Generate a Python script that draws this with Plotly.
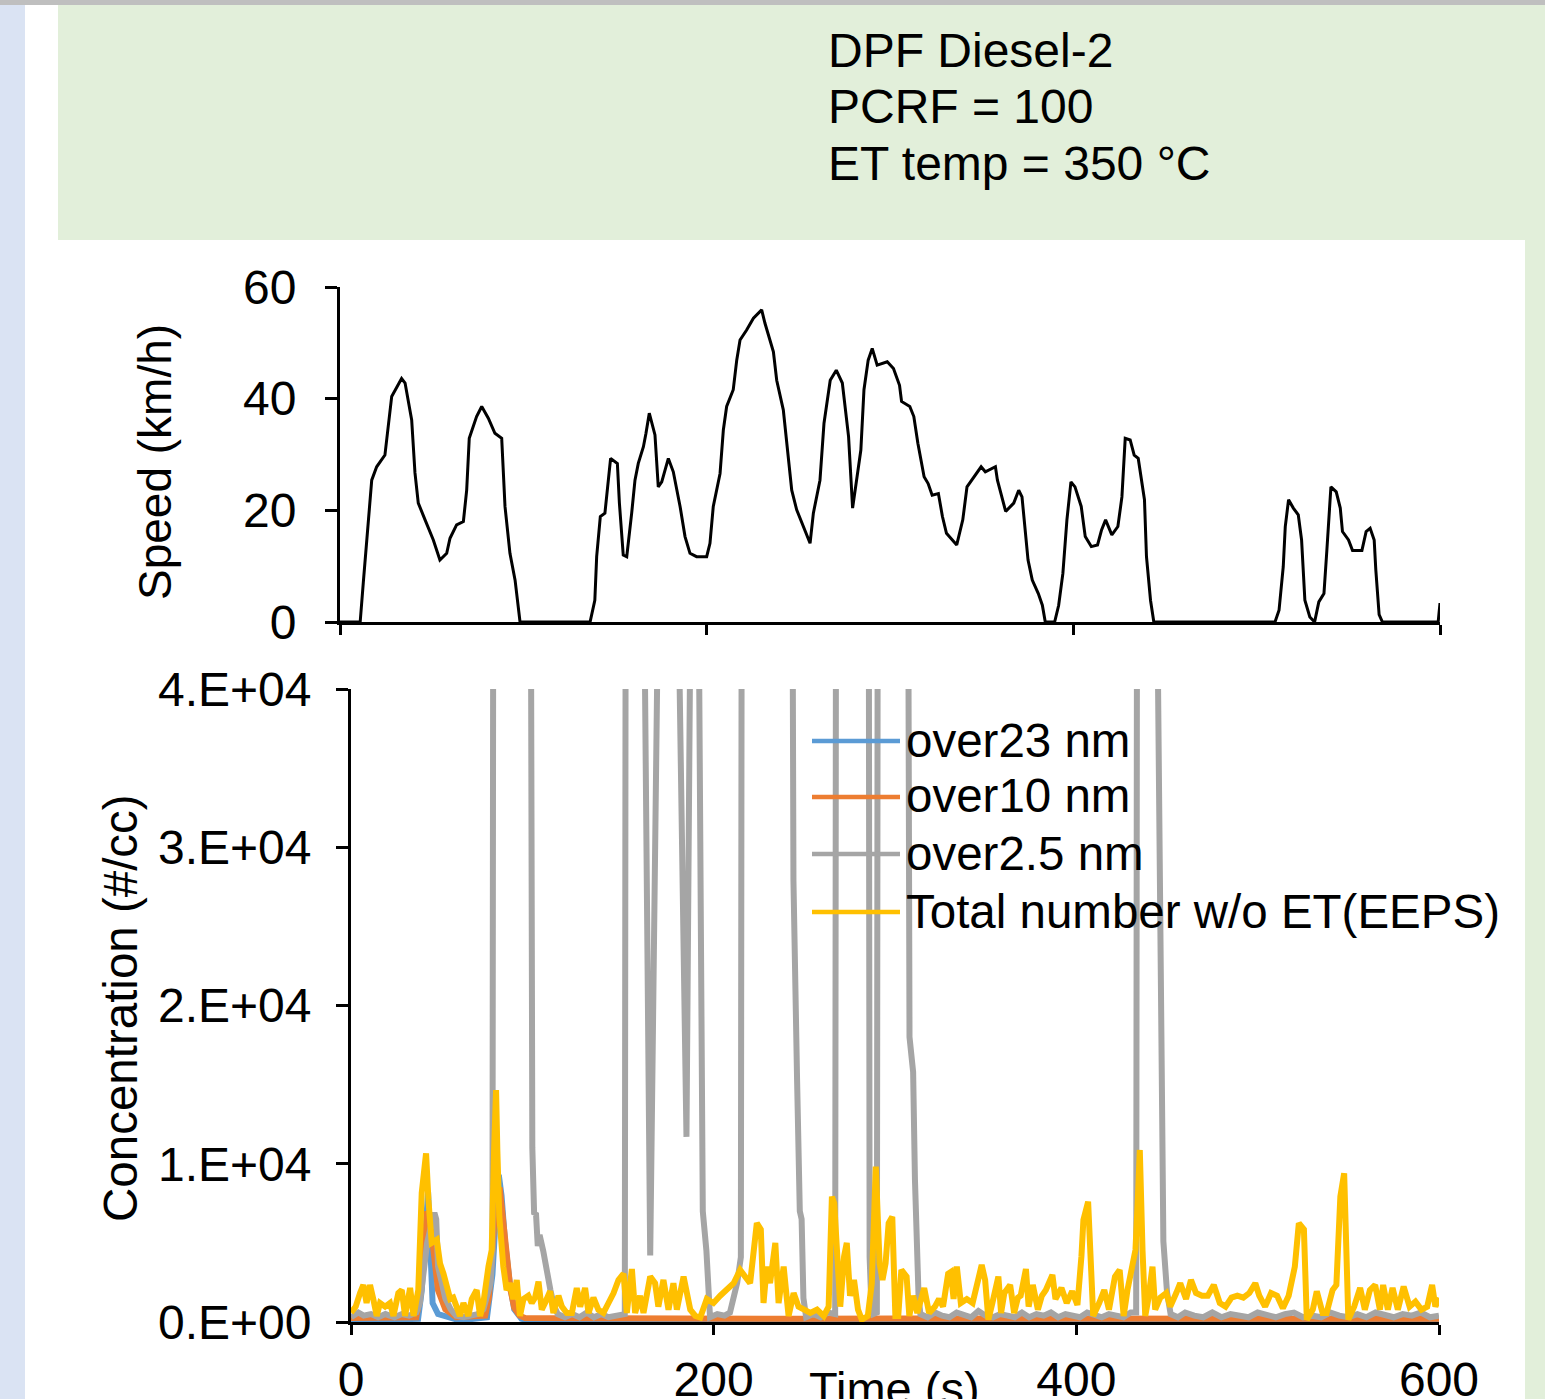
import plotly.graph_objects as go

W, H = 1545, 1399
FONT = "Liberation Sans, Arial, sans-serif"

# ---------------- data ----------------
time_ticks = [0, 200, 400, 600]
speed_ticks = [0, 20, 40, 60]
conc_ticks = [0, 10000, 20000, 30000, 40000]
conc_ticktext = ["0.E+00", "1.E+04", "2.E+04", "3.E+04", "4.E+04"]

speed_t = [0, 11, 12.7, 14.2, 17.3, 20, 24.5, 28.2, 33.6, 35.5, 39.1, 40.9, 42.7, 46.4, 50.9,
           54.5, 58.2, 60, 63.6, 67.3, 69.1, 70.5, 74.5, 77.3, 80.9, 84.5, 88.2, 90, 92.7, 95.5,
           98.2, 136.4, 139, 140, 142, 144.5, 146.4, 147.6, 151.3, 152.4, 154.5, 156.4, 159.1,
           160.9, 162.7, 165.5, 166.9, 168.7, 171.8, 173.6, 175.5, 179.1, 181.8, 185.5, 188.2,
           190.9, 194.5, 200, 201.8, 203.6, 207.3, 209.1, 210.9, 214.5, 216.4, 218.2, 221.8,
           225.5, 230, 231.8, 236.4, 238.2, 241.8, 246.4, 249.1, 252.7, 256.4, 258.2, 261.8,
           264.0, 267.4, 270.7, 274.0, 277.4, 279.6, 284.1, 285.8, 288.1, 290.3, 293.0, 298.5,
           301.9, 305.2, 306.3, 310.8, 313.0, 315.2, 318.6, 320.8, 323.0, 326.4, 328.6, 330.8,
           336.4, 339.7, 342.0, 345.3, 349.7, 352.0, 357.5, 358.6, 360.9, 363.1, 367.5, 370.2,
           372.0, 375.3, 377.6, 380.9, 383.1, 384.7, 389.8, 392.0, 394.3, 396.5, 398.7, 400.9,
           404.3, 406.5, 409.8, 413.2, 415.4, 417.6, 421.0, 424.3, 426.5, 428.3, 431.0, 433.2,
           435.4, 436.6, 438.8, 439.9, 442.1, 443.9, 510.0, 512.2, 514.5, 515.6, 517.4, 520.0,
           522.7, 524.5, 526.3, 529.0, 531.6, 533.9, 536.7, 538.3, 539.6, 540.5, 543.4, 545.6,
           546.8, 550.1, 552.3, 557.4, 559.7, 561.9, 564.1, 565.0, 566.8, 568.6, 599, 600]
speed_v = [0, 0, 7.0, 13.5, 25.4, 27.8, 29.9, 40.4, 43.6, 42.8, 36.2, 26.7, 21.3, 18.3, 14.7,
           11.1, 12.3, 15.0, 17.4, 18.0, 23.6, 32.9, 36.8, 38.6, 36.5, 33.8, 32.9, 20.7, 12.3, 7.5,
           0, 0, 3.9, 11.7, 18.9, 19.5, 25.4, 29.3, 28.4, 21.3, 12.0, 11.7, 19.5,
           25.4, 28.4, 31.4, 33.8, 37.4, 33.5, 24.2, 25.1, 29.3, 26.9, 20.7, 15.3,
           12.3, 11.7, 11.7, 14.1, 20.7, 26.6, 34.4, 38.6, 41.6, 46.9, 50.5, 52.3,
           54.4, 55.9, 53.5, 48.4, 43.3, 38.0, 23.6, 20.1, 17.1, 14.1, 19.5, 25.4,
           35.6, 43.3, 45.1, 42.8, 33.2, 20.4, 30.8, 41.6, 46.9, 49.0, 46.0, 46.6,
           45.4, 42.4, 39.5, 38.6, 36.8, 32.0, 26.0, 24.8, 22.7, 23.0, 18.9, 15.9,
           13.8, 18.3, 24.2, 25.7, 27.8, 26.9, 27.8, 25.4, 22.4, 19.8, 21.3, 23.6,
           22.4, 11.1, 7.5, 5.1, 3.0, 0, 0, 3.0, 8.7, 18.3, 25.1, 24.2,
           20.7, 15.3, 13.5, 13.8, 16.5, 18.3, 15.6, 17.1, 22.4, 32.9, 32.6, 29.9,
           29.3, 26.6, 21.9, 11.7, 3.9, 0, 0, 2.1, 9.9, 17.1, 21.9, 20.4,
           19.2, 14.7, 3.9, 0.9, 0, 3.6, 5.1, 12.9, 20.1, 24.2, 23.3, 20.4,
           16.2, 14.7, 12.8, 12.8, 16.2, 16.8, 14.7, 9.3, 1.3, 0, 0, 3.4]

# over23 nm (blue)
over23_t = [0, 37, 39, 41, 42.5, 44, 45, 48, 55, 60, 75, 78, 80, 81.5, 83, 85, 87.5, 90, 94, 100, 600]
over23_c = [100, 200, 2000, 6000, 8200, 4000, 1200, 500, 300, 100, 300, 3000, 7000, 9300, 8000,
            5000, 2500, 800, 200, 80, 80]

# over10 nm (orange)
over10_t = [0, 36, 38, 40, 42, 44, 46, 48, 52, 58, 74, 76, 78, 80, 82, 84, 86, 88, 90, 93, 96,
            150, 200, 250, 300, 350, 400, 450, 500, 550, 600]
over10_c = [250, 300, 1500, 4500, 7000, 6000, 4000, 2000, 800, 300, 400, 1500, 4500, 8000, 8500,
            6000, 3500, 2000, 900, 400, 250, 200, 230, 200, 220, 200, 220, 200, 230, 200, 200]

# over2.5 nm (gray) - values above 4E4 run off the chart
over25_t = [0, 4, 7, 11, 15, 19, 24, 28, 32, 36, 38, 40, 42, 44, 46, 47, 48, 50, 52, 55, 58, 62,
            66, 70, 73, 75, 77, 78, 79, 98, 99, 100, 101, 102, 103, 104, 106, 108, 110, 112, 114,
            118, 122, 126, 130, 134, 138, 142, 146, 151, 152, 161, 162, 165, 169, 170, 180, 181,
            185, 187, 188, 191, 192, 194, 196, 197, 198, 202, 206, 209, 211, 213, 215, 216, 242,
            243, 244, 246, 247.5, 248.5, 249.5, 251, 255, 259, 263, 267, 268, 285, 286, 287, 288,
            290, 291, 306, 307, 308, 310, 311, 313, 314, 318, 322, 326, 330, 334, 338, 342, 346,
            350, 354, 358, 362, 366, 370, 374, 378, 382, 386, 390, 394, 398, 402, 406, 410, 414,
            418, 422, 426, 430, 433, 434, 444, 445, 448, 450, 452, 456, 460, 465, 470, 475, 480,
            485, 490, 495, 500, 505, 510, 515, 520, 525, 530, 535, 540, 545, 550, 555, 560, 565,
            570, 575, 580, 585, 590, 595, 600]
over25_c = [300, 600, 400, 500, 300, 500, 300, 500, 400, 600, 1200, 3000, 5000, 6000, 6900, 6500,
            3500, 2500, 1500, 800, 400, 300, 400, 500, 800, 1500, 2500, 4500, 100000, 100000, 41000,
            11000, 6800, 6900, 4800, 5500, 4500, 3000, 2000, 1000, 500, 300, 500, 300, 600, 300, 500,
            300, 400, 500, 100000, 100000, 42000, 4200, 42000, 100000, 100000, 42000, 11700, 42000,
            100000, 100000, 41000, 7000, 4500, 1200, 300, 500, 400, 600, 1500, 2500, 4100, 100000,
            100000, 41000, 27900, 15300, 7000, 6500, 1500, 300, 500, 300, 600, 500, 100000, 100000,
            4100, 1000, 500, 600, 100000, 100000, 41000, 18000, 15800, 9000, 1600, 500, 300, 600,
            400, 300, 600, 400, 300, 700, 400, 300, 500, 400, 300, 600, 300, 500, 400, 600, 300, 500,
            400, 300, 600, 400, 300, 500, 400, 300, 600, 600, 100000, 100000, 41000, 5100, 1900, 500,
            300, 600, 400, 300, 600, 300, 500, 400, 300, 600, 400, 300, 500, 600, 300, 400, 300, 600,
            400, 300, 500, 300, 600, 400, 300, 500, 400, 600, 300, 400]

# Total number w/o ET (EEPS) (yellow)
total_t = [0, 2.6, 5, 6.8, 8.6, 10.5, 12.3, 14.2, 16, 18.8, 21.5, 23.4, 26.1, 28, 29.8, 32.6, 34.5,
           37.1, 39, 41.4, 42.7, 44.5, 47.3, 49.1, 51, 52.8, 54.7, 56.4, 58.3, 60.1, 62, 64.7, 66.6,
           69.3, 71.2, 73, 75.8, 77.6, 78.9, 80, 80.7, 81.8, 84, 85.8, 87.7, 89.5, 91.4, 93.2, 95.1,
           97.8, 99.7, 101.5, 103.4, 105.2, 107, 109.8, 111.6, 114.4, 116.3, 119, 121.8, 124.5,
           126.4, 129.1, 131, 133.7, 136.4, 139.2, 142, 144.8, 147.5, 150.3, 152.1, 154.9, 156.7,
           159.4, 161.3, 165, 167.7, 169.5, 172.3, 175.1, 177.8, 179.7, 183.4, 185.3, 187.1, 189.9,
           192.6, 196.2, 199.9, 203.6, 207.3, 211, 214.6, 217.4, 220.1, 223.8, 226, 227.5, 229.3,
           231.1, 234, 235.8, 238.6, 241.3, 244.1, 246.8, 249.6, 253.3, 257, 260.7, 263.4, 265.2,
           266.5, 268.1, 269.8, 271.9, 273.4, 275.2, 277.4, 279.6, 281.7, 285, 287.2, 289.4, 291.5,
           293.1, 294.8, 296.5, 298.5, 300.2, 301.8, 303.5, 306.4, 307.9, 310, 312.3, 316.1, 318.8,
           322, 324.3, 326.5, 329.3, 330.8, 332.3, 334.1, 336.3, 339.6, 342.8, 346.1, 347.8, 349.7,
           351.5, 353.7, 357, 358.5, 360.3, 363.5, 365.7, 367.8, 369.3, 372.2, 373.7, 376, 378.8,
           381, 383.2, 386.8, 388.5, 391.8, 394.7, 397.7, 400.6, 402.8, 403.9, 406.5, 409.3, 412.6,
           415.4, 418, 421.3, 423.9, 426.1, 428.2, 431.1, 432.6, 433.9, 435, 436.5, 438, 439.7, 442,
           443.5, 446.3, 449.6, 451.8, 455.1, 457.3, 460.5, 463.2, 466, 469.3, 472.5, 475.8, 479.1,
           482.3, 485.6, 488.8, 492.1, 495.4, 498.7, 500.9, 504.1, 507.4, 510.7, 513.9, 517.1,
           520.5, 522.7, 525.5, 527.1, 530.4, 532.6, 535.8, 538, 541.3, 543.4, 545.6, 547.7, 550,
           553.2, 556.5, 559.1, 561.9, 564.8, 567.4, 569.2, 571.8, 574.4, 577.3, 580.5, 583.8, 587,
           590.3, 593.5, 596.2, 598, 600]
total_c = [600, 970, 1830, 2340, 1200, 2340, 1450, 380, 1200, 970, 1200, 380, 1830, 2020, 380, 2150,
           380, 2020, 8150, 10660, 7730, 5000, 5200, 3700, 3050, 2200, 1450, 1540, 970, 380, 1200,
           380, 1450, 2020, 380, 1200, 3500, 4550, 10870, 14660, 10870, 6650, 3500, 2020, 2450,
           1450, 2660, 380, 1450, 1660, 1200, 1540, 2550, 780, 1200, 1940, 570, 1660, 970, 570,
           570, 2150, 970, 2150, 570, 1540, 780, 570, 1200, 1830, 2660, 3050, 570, 3350, 570, 1660,
           570, 2870, 2450, 970, 2660, 780, 2450, 780, 2870, 1830, 780, 380, 280, 1450, 1200, 1660,
           2020, 2450, 3290, 2870, 2450, 6250, 5850, 1200, 3500, 2450, 5000, 1200, 3500, 380, 1830,
           970, 780, 570, 780, 380, 970, 7920, 7500, 4550, 970, 4130, 5000, 1660, 2660, 780, 150,
           380, 2450, 9820, 3700, 2660, 3700, 6240, 6650, 380, 380, 3290, 2870, 380, 1660, 570,
           2150, 570, 970, 1450, 970, 3050, 3160, 1450, 3500, 1200, 1450, 1200, 2870, 3600, 2660,
           150, 1200, 2870, 570, 1830, 2340, 570, 1540, 1660, 3350, 970, 2340, 780, 1660, 2020,
           2970, 1450, 2150, 1200, 1940, 1080, 4130, 6450, 7600, 380, 1200, 2020, 780, 2870, 3290,
           380, 2020, 3700, 4550, 7730, 10870, 4550, 380, 1450, 3500, 780, 1540, 1830, 970, 1830,
           2450, 1450, 2660, 1830, 1660, 1660, 2340, 1200, 970, 1540, 1660, 1540, 1830, 2450,
           1660, 970, 1830, 1660, 870, 1660, 3500, 6240, 5850, 150, 780, 1940, 570, 570, 2020,
           2340, 7920, 9400, 150, 970, 2150, 780, 2020, 2340, 780, 2340, 780, 2150, 780, 2240,
           970, 1290, 780, 970, 2340, 970, 1540]

series_names = ["over23 nm", "over10 nm", "over2.5 nm", "Total number w/o ET(EEPS)"]
series_colors = ["#5b9bd5", "#ed7d31", "#a5a5a5", "#ffc000"]
title_lines = ["DPF Diesel-2", "PCRF = 100", "ET temp = 350 °C"]


def px(x):
    return x / W


def py(y):
    return 1 - y / H


fig = go.Figure()

fig.add_trace(go.Scatter(x=speed_t, y=speed_v, mode="lines", xaxis="x", yaxis="y",
                         line=dict(color="black", width=3), showlegend=False))

conc = [(over23_t, over23_c), (over10_t, over10_c), (over25_t, over25_c), (total_t, total_c)]
for (tx, cy), name, col in zip(conc, series_names, series_colors):
    fig.add_trace(go.Scatter(x=tx, y=cy, mode="lines", name=name, xaxis="x2", yaxis="y2",
                             line=dict(color=col, width=6), showlegend=False))

axis_common = dict(showline=True, linecolor="black", linewidth=2.8, ticks="outside",
                   tickcolor="black", tickwidth=2.8, showgrid=False, zeroline=False,
                   automargin=False,
                   tickfont=dict(family=FONT, size=48, color="black"))

fig.update_layout(
    width=W, height=H, autosize=False,
    margin=dict(l=0, r=0, t=0, b=0, pad=0, autoexpand=False),
    paper_bgcolor="white", plot_bgcolor="rgba(0,0,0,0)",
    font=dict(family=FONT, color="black"),
    xaxis=dict(domain=[px(340), px(1440)], range=[0, 600], anchor="y", tickvals=time_ticks,
               showticklabels=False, ticklen=10, **axis_common),
    yaxis=dict(domain=[py(622), py(287)], range=[0, 60], anchor="x", tickvals=speed_ticks,
               ticklen=12, ticklabelstandoff=19, **axis_common),
    xaxis2=dict(domain=[px(351), px(1439)], range=[0, 600], anchor="y2", tickvals=time_ticks,
                ticklen=10, ticklabelstandoff=3, **axis_common),
    yaxis2=dict(domain=[py(1322), py(689)], range=[0, 40000], anchor="x2", tickvals=conc_ticks,
                ticktext=conc_ticktext, ticklen=12, ticklabelstandoff=15, **axis_common),
)

shapes = [
    dict(type="rect", xref="paper", yref="paper", x0=0, x1=1, y0=py(5), y1=1,
         fillcolor="#bfbfbf", line=dict(width=0), layer="below"),
    dict(type="rect", xref="paper", yref="paper", x0=0, x1=px(25), y0=0, y1=py(5),
         fillcolor="#dae3f3", line=dict(width=0), layer="below"),
    dict(type="rect", xref="paper", yref="paper", x0=px(58), x1=1, y0=py(240), y1=py(5),
         fillcolor="#e2efda", line=dict(width=0), layer="below"),
    dict(type="rect", xref="paper", yref="paper", x0=px(1525), x1=1, y0=0, y1=py(240),
         fillcolor="#e2efda", line=dict(width=0), layer="below"),
]

annotations = []
# title block
for i, line in enumerate(title_lines):
    annotations.append(dict(text=line, xref="paper", yref="paper", x=px(826), y=py(50 + 57 * i),
                            xanchor="left", yanchor="middle", showarrow=False,
                            font=dict(family=FONT, size=48, color="black")))

# axis titles
annotations.append(dict(text="Speed (km/h)", xref="paper", yref="paper", x=px(155), y=py(462),
                        textangle=-90, showarrow=False, xanchor="center", yanchor="middle",
                        font=dict(family=FONT, size=46, color="black")))
annotations.append(dict(text="Concentration (#/cc)", xref="paper", yref="paper", x=px(120),
                        y=py(1008), textangle=-90, showarrow=False, xanchor="center",
                        yanchor="middle", font=dict(family=FONT, size=47.5, color="black")))
annotations.append(dict(text="Time (s)", xref="paper", yref="paper", x=px(894), y=py(1388),
                        showarrow=False, xanchor="center", yanchor="middle",
                        font=dict(family=FONT, size=47, color="black")))

# legend (manual, inside the lower plot)
legend_rows = [741, 797, 854, 912]
for name, col, yrow in zip(series_names, series_colors, legend_rows):
    shapes.append(dict(type="line", xref="paper", yref="paper", x0=px(812), x1=px(900),
                       y0=py(yrow), y1=py(yrow), line=dict(color=col, width=4.5), layer="above"))
    annotations.append(dict(text=name, xref="paper", yref="paper", x=px(904), y=py(yrow - 1),
                            xanchor="left", yanchor="middle", showarrow=False,
                            font=dict(family=FONT, size=47.5, color="black")))

fig.update_layout(shapes=shapes, annotations=annotations)

fig.write_html("out.html", config={"displayModeBar": False},
               post_script="document.body.style.margin='0px';document.body.style.overflow='hidden';")
